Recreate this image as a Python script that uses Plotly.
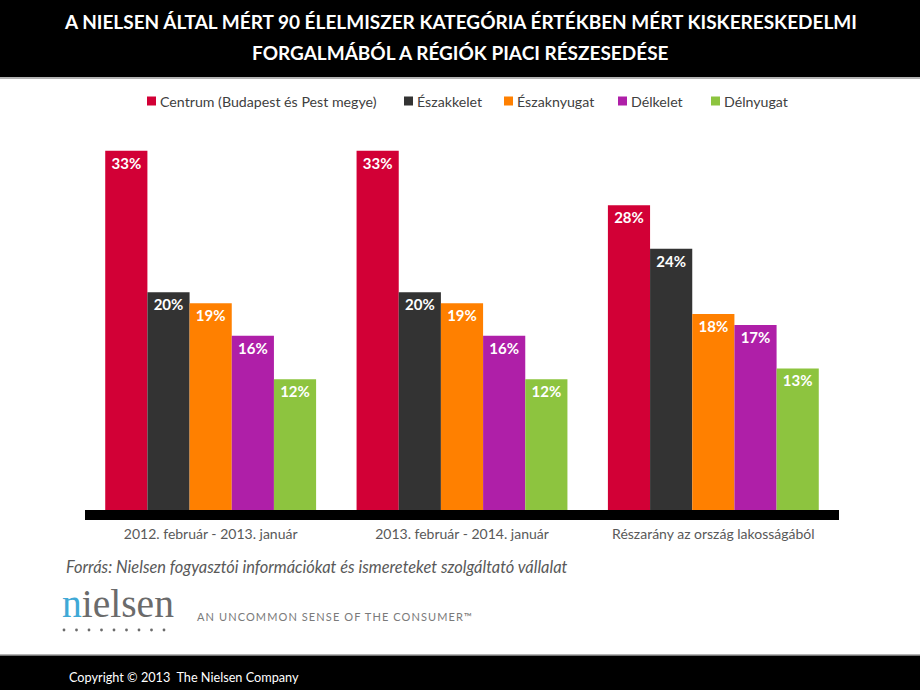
import plotly.graph_objects as go

W, H = 920, 690

categories = ["2012. február - 2013. január", "2013. február - 2014. január", "Részarány az ország lakosságából"]
series_names = ["Centrum (Budapest és Pest megye)", "Északkelet", "Északnyugat", "Délkelet", "Délnyugat"]
centrum = [33, 33, 28]
eszakkelet = [20, 20, 24]
eszaknyugat = [19, 19, 18]
delkelet = [16, 16, 17]
delnyugat = [12, 12, 13]
series_values = [centrum, eszakkelet, eszaknyugat, delkelet, delnyugat]
colors = ["#D20036", "#333333", "#FF8000", "#AF1FA8", "#8DC43F"]

title_lines = ["A NIELSEN ÁLTAL MÉRT 90 ÉLELMISZER KATEGÓRIA ÉRTÉKBEN MÉRT KISKERESKEDELMI",
               "FORGALMÁBÓL A RÉGIÓK PIACI RÉSZESEDÉSE"]
source_text = "Forrás: Nielsen fogyasztói információkat és ismereteket szolgáltató vállalat"
tagline = "AN UNCOMMON SENSE OF THE CONSUMER™"
copyright_text = "Copyright © 2013  The Nielsen Company"

FONT = "Lato"

def px(x):
    return x / W

def py(y):
    return 1 - y / H

fig = go.Figure()
for name, vals, col in zip(series_names, series_values, colors):
    fig.add_trace(go.Bar(
        x=categories, y=vals, name=name, marker=dict(color=col, line=dict(width=0)),
        texttemplate="<b>%{y}%</b>", textposition="inside", insidetextanchor="end",
        textangle=0, constraintext="none",
        textfont=dict(color="white", size=15, family=FONT),
        showlegend=False,
    ))

plot_left, plot_right, plot_top, base_y = 85, 839, 129, 510

shapes = [
    # title band
    dict(type="rect", xref="paper", yref="paper", x0=0, x1=1, y0=py(77), y1=1,
         fillcolor="#000000", line=dict(width=0), layer="below"),
    dict(type="line", xref="paper", yref="paper", x0=0, x1=1, y0=py(78), y1=py(78),
         line=dict(color="#9a9a9a", width=1.5)),
    # footer band
    dict(type="rect", xref="paper", yref="paper", x0=0, x1=1, y0=0, y1=py(655),
         fillcolor="#000000", line=dict(width=0), layer="below"),
    dict(type="line", xref="paper", yref="paper", x0=0, x1=1, y0=py(655), y1=py(655),
         line=dict(color="#9a9a9a", width=1.5)),
    # thick baseline
    dict(type="rect", xref="paper", yref="paper", x0=px(plot_left), x1=px(plot_right),
         y0=py(520), y1=py(base_y), fillcolor="#000000", line=dict(width=0)),
]

annotations = []
annotations.append(dict(text="<b>" + title_lines[0] + "</b>", x=0.5, y=py(22), xref="paper", yref="paper",
                        showarrow=False, xanchor="center", yanchor="middle",
                        font=dict(family=FONT, size=19, color="white")))
annotations.append(dict(text="<b>" + title_lines[1] + "</b>", x=0.5, y=py(52), xref="paper", yref="paper",
                        showarrow=False, xanchor="center", yanchor="middle",
                        font=dict(family=FONT, size=19, color="white")))

# custom legend
legend_x = [147, 404, 504, 618, 711]
legend_y = 101
for lx, name, col in zip(legend_x, series_names, colors):
    shapes.append(dict(type="rect", xref="paper", yref="paper", x0=px(lx), x1=px(lx + 9),
                       y0=py(legend_y + 4.5), y1=py(legend_y - 4.5), fillcolor=col, line=dict(width=0)))
    annotations.append(dict(text=name, x=px(lx + 11), y=py(legend_y), xref="paper", yref="paper",
                            showarrow=False, xanchor="left", yanchor="middle",
                            font=dict(family=FONT, size=14.2, color="#404040")))

annotations.append(dict(text="<i>" + source_text + "</i>", x=px(64), y=py(566), xref="paper", yref="paper",
                        showarrow=False, xanchor="left", yanchor="middle",
                        font=dict(family=FONT, size=16.4, color="#595959")))

# nielsen logo
annotations.append(dict(text="<span style='color:#3FA9D6'>n</span>ielsen", x=px(60), y=py(604),
                        xref="paper", yref="paper", showarrow=False, xanchor="left", yanchor="middle",
                        font=dict(family="Liberation Serif", size=39.5, color="#6b6b6b")))
for i in range(9):
    cx = 64 + i * 12.5
    shapes.append(dict(type="circle", xref="paper", yref="paper", x0=px(cx - 1.4), x1=px(cx + 1.4),
                       y0=py(630 + 1.4), y1=py(630 - 1.4), fillcolor="#6b6b6b", line=dict(width=0)))
annotations.append(dict(text="<span style='letter-spacing:1.1px'>" + tagline + "</span>", x=px(195), y=py(616),
                        xref="paper", yref="paper",
                        showarrow=False, xanchor="left", yanchor="middle",
                        font=dict(family=FONT, size=11, color="#7a7a7a")))

annotations.append(dict(text=copyright_text, x=px(67), y=py(677), xref="paper", yref="paper",
                        showarrow=False, xanchor="left", yanchor="middle",
                        font=dict(family=FONT, size=12.7, color="#ffffff")))

fig.update_layout(
    width=W, height=H,
    margin=dict(l=0, r=0, t=0, b=0),
    paper_bgcolor="white", plot_bgcolor="white",
    barmode="group", bargap=0.161, bargroupgap=0,
    xaxis=dict(domain=[px(plot_left), px(plot_right)], showline=False, showgrid=False,
               ticks="", tickfont=dict(family=FONT, size=14, color="#595959"),
               ticklabelstandoff=14, range=[-0.5, 2.5]),
    yaxis=dict(domain=[py(base_y), py(plot_top)], range=[0, 35], visible=False),
    shapes=shapes, annotations=annotations,
    font=dict(family=FONT),
)

fig.write_html("out.html")
